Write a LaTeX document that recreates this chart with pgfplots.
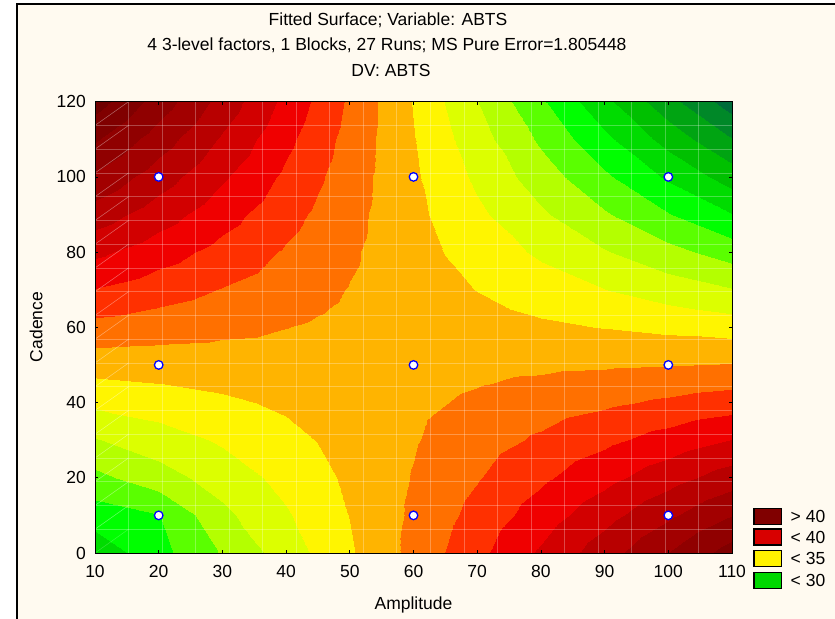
\documentclass[border=0pt]{standalone}
\usepackage{pgfplots}
\pgfplotsset{compat=1.18}
\usepackage{fontspec}
\setmainfont{Liberation Sans}
\definecolor{cream}{RGB}{255,250,240}
\newcommand\cf{\fontsize{17.5bp}{20bp}\selectfont}
\begin{document}
\begin{tikzpicture}[x=1bp,y=1bp]
\path[use as bounding box] (0,0) rectangle (835,619);
\fill[white] (0,0) rectangle (835,619);
\fill[cream] (16.8,0) rectangle (835,615.3);
\draw[line width=2bp] (16.8,0) -- (16.8,615.3) -- (836,615.3);
\begin{axis}[
  at={(95bp,66bp)}, anchor=south west, scale only axis,
  width=637bp, height=451.3bp,
  xmin=10, xmax=110, ymin=0, ymax=120,
  xtick={10,20,...,110}, ytick={0,20,...,120},
  tick align=inside, major tick length=3bp,
  axis line style={line width=0.8bp},
  tick style={black, line width=0.7bp},
  /pgf/number format/assume math mode=true,
  xticklabel style={font=\cf, anchor=center, yshift=-18bp, inner sep=0pt},
  yticklabel style={font=\cf, anchor=east, xshift=-9bp, inner sep=0pt},
  axis on top,
  colormap={abts}{
    rgb255(0)=(0,108,58) rgb255(1)=(0,136,40) rgb255(2)=(0,164,18)
    rgb255(3)=(0,192,0) rgb255(4)=(0,220,0) rgb255(5)=(0,255,0)
    rgb255(6)=(90,255,0) rgb255(7)=(180,255,0) rgb255(8)=(220,255,0)
    rgb255(9)=(255,245,0) rgb255(10)=(255,180,0) rgb255(11)=(255,112,0)
    rgb255(12)=(255,48,0) rgb255(13)=(240,0,0) rgb255(14)=(210,0,0)
    rgb255(15)=(184,0,0) rgb255(16)=(162,0,0) rgb255(17)=(144,0,0)
    rgb255(18)=(128,0,0) rgb255(19)=(112,0,0) rgb255(20)=(112,0,0)},
  colormap access=piecewise constant,
  point meta min=22.5, point meta max=47.5,
]
\addplot[surf, shader=interp, mesh/cols=14, point meta=explicit] table[x=x, y=y, meta=z] {
x y z
10 0 27.88
20 0 29.61
30 0 31.35
40 0 33.10
45 0 33.98
50 0 34.86
55 0 35.74
60 0 36.63
65 0 37.51
70 0 38.40
80 0 40.18
90 0 41.97
100 0 43.76
110 0 45.56
10 10 29.38
20 10 29.98
30 10 32.20
40 10 33.62
45 10 34.33
50 10 35.04
55 10 35.76
60 10 36.47
65 10 37.19
70 10 37.91
80 10 39.35
90 10 40.80
100 10 42.26
110 10 43.72
10 20 30.90
20 20 31.97
30 20 33.05
40 20 34.13
45 20 34.68
50 20 35.22
55 20 35.77
60 20 36.32
65 20 36.87
70 20 37.42
80 20 38.53
90 20 39.64
100 20 40.75
110 20 41.88
10 30 32.43
20 30 33.17
30 30 33.91
40 30 34.66
45 30 35.04
50 30 35.41
55 30 35.79
60 30 36.17
65 30 36.55
70 30 36.93
80 30 37.70
90 30 38.47
100 30 39.25
110 30 40.03
10 40 33.97
20 40 34.37
30 40 34.78
40 40 35.19
45 40 35.40
50 40 35.60
55 40 35.81
60 40 36.02
65 40 36.23
70 40 36.44
80 40 36.87
90 40 37.30
100 40 37.73
110 40 38.17
10 45 34.75
20 45 34.98
30 45 35.22
40 45 35.46
45 45 35.58
50 45 35.70
55 45 35.82
60 45 35.95
65 45 36.07
70 45 36.20
80 45 36.45
90 45 36.71
100 45 36.97
110 45 37.24
10 50 35.53
20 50 35.59
30 50 35.66
40 50 35.73
45 50 35.76
50 50 35.80
55 50 35.84
60 50 35.88
65 50 35.92
70 50 35.96
80 50 36.04
90 50 36.12
100 50 36.21
110 50 36.31
10 55 36.31
20 55 36.20
30 55 36.10
40 55 36.00
45 55 35.95
50 55 35.90
55 55 35.85
60 55 35.80
65 55 35.76
70 55 35.71
80 55 35.62
90 55 35.54
100 55 35.45
110 55 35.37
10 60 37.10
20 60 36.82
30 60 36.54
40 60 36.27
45 60 36.13
50 60 36.00
55 60 35.86
60 60 35.73
65 60 35.60
70 60 35.47
80 60 35.21
90 60 34.95
100 60 34.69
110 60 34.44
10 65 37.89
20 65 37.44
30 65 36.99
40 65 36.54
45 65 36.32
50 65 36.10
55 65 35.88
60 65 35.66
65 65 35.44
70 65 35.22
80 65 34.79
90 65 34.36
100 65 33.93
110 65 33.50
10 70 38.69
20 70 38.06
30 70 37.44
40 70 36.82
45 70 36.51
50 70 36.20
55 70 35.90
60 70 35.59
65 70 35.28
70 70 34.98
80 70 34.37
90 70 33.77
100 70 33.16
110 70 32.57
10 80 40.28
20 80 39.31
30 80 38.34
40 80 37.37
45 80 36.89
50 80 36.41
55 80 35.93
60 80 35.45
65 80 34.97
70 80 34.49
80 80 33.54
90 80 32.58
100 80 31.64
110 80 30.69
10 90 41.90
20 90 40.57
30 90 39.25
40 90 37.93
45 90 37.28
50 90 36.62
55 90 35.97
60 90 35.31
65 90 34.66
70 90 34.00
80 90 32.70
90 90 31.40
100 90 30.10
110 90 28.81
10 100 43.52
20 100 41.85
30 100 40.17
40 100 38.50
45 100 37.67
50 100 36.84
55 100 36.01
60 100 35.17
65 100 34.35
70 100 33.52
80 100 31.86
90 100 30.21
100 100 28.56
110 100 26.92
10 110 45.16
20 110 43.13
30 110 41.10
40 110 39.07
45 110 38.06
50 110 37.06
55 110 36.05
60 110 35.04
65 110 34.03
70 110 33.03
80 110 31.02
90 110 29.02
100 110 27.02
110 110 25.02
10 120 46.81
20 120 44.42
30 120 42.04
40 120 39.65
45 120 38.47
50 120 37.28
55 120 36.09
60 120 34.91
65 120 33.72
70 120 32.54
80 120 30.18
90 120 27.82
100 120 25.46
110 120 23.11
};
% faint mesh lines of the fitted surface
\pgfplotsinvokeforeach{1,...,18}{
  \draw[white, opacity=0.28, line width=0.5bp] ({10+#1*100/19},0) -- ({10+#1*100/19},120);
  \draw[white, opacity=0.28, line width=0.5bp] (10,{#1*120/19}) -- (110,{#1*120/19});
}
\pgfplotsinvokeforeach{0,...,18}{
  \pgfplotsinvokeforeach{0,...,18}{
    \ifnum#1<9
      \draw[white, opacity=0.22, line width=0.5bp] ({10+#1*100/19},{##1*120/19}) -- ({10+(#1+1)*100/19},{(##1+1)*120/19});
    \else
      \draw[white, opacity=0.22, line width=0.5bp] ({10+#1*100/19},{(##1+1)*120/19}) -- ({10+(#1+1)*100/19},{##1*120/19});
    \fi
  }
}
\addplot[only marks, mark=*, mark size=4.3bp, mark options={fill=white, draw=blue, line width=1.3bp}]
  coordinates {(20,10) (20,50) (20,100) (60,10) (60,50) (60,100) (100,10) (100,50) (100,100)};
\end{axis}
% titles and labels
\node[font=\cf] at (388,599) {Fitted Surface; Variable: ABTS};
\node[font=\cf] at (387,574) {4 3-level factors, 1 Blocks, 27 Runs; MS Pure Error=1.805448};
\node[font=\cf] at (391,549) {DV: ABTS};
\node[font=\cf] at (413.5,14) {Amplitude};
\node[font=\cf, rotate=90] at (36,292) {Cadence};
% legend
\foreach \yy/\col/\txt in {94.7/{rgb,255:red,128;green,0;blue,0}/{> 40},
                           74/{rgb,255:red,216;green,0;blue,0}/{< 40},
                           52.3/{rgb,255:red,255;green,242;blue,0}/{< 35},
                           30.7/{rgb,255:red,0;green,216;blue,0}/{< 30}} {
  \filldraw[fill={\col}, draw=black, line width=1.2bp] (754,\yy) rectangle (781.3,\yy+16);
  \node[font=\cf, anchor=west, inner sep=0pt] at (790.5,\yy+8) {\txt};
}
\end{tikzpicture}
\end{document}
